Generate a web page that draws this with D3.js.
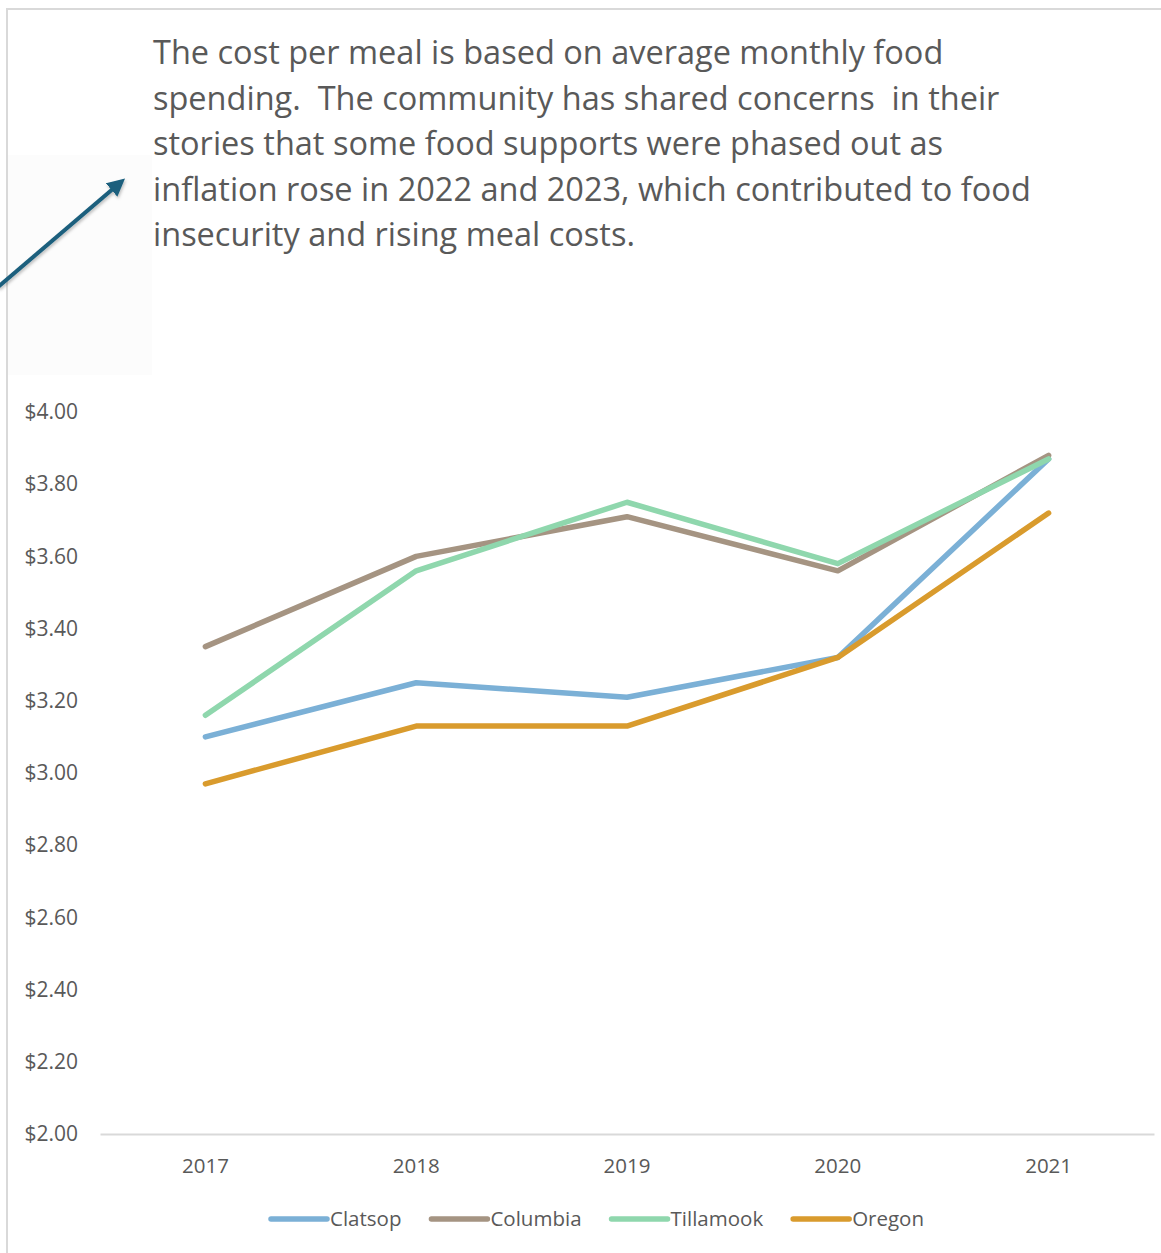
<!DOCTYPE html>
<html lang="en">
<head>
    <meta charset="UTF-8">
    <title>Cost per meal</title>
    <script src="https://d3js.org/d3.v7.min.js"></script>
    <style>
        body, html {
            margin: 0;
            background-color: #ffffff;
        }
        svg text {
            font-family: 'Open Sans', sans-serif;
            fill: #595959;
        }
    </style>
</head>
<body>
<svg id="chart"></svg>

<script>
    // data
    const years = ["2017", "2018", "2019", "2020", "2021"];
    const clatsop = [3.10, 3.25, 3.21, 3.32, 3.87];
    const columbia = [3.35, 3.60, 3.71, 3.56, 3.88];
    const tillamook = [3.16, 3.56, 3.75, 3.58, 3.87];
    const oregon = [2.97, 3.13, 3.13, 3.32, 3.72];
    const seriesNames = ["Clatsop", "Columbia", "Tillamook", "Oregon"];
    const seriesColors = ["#7bb0d6", "#a59482", "#8fd7ad", "#d99b2d"];
    const yTicks = [2.0, 2.2, 2.4, 2.6, 2.8, 3.0, 3.2, 3.4, 3.6, 3.8, 4.0];
    const noteLines = [
        "The cost per meal is based on average monthly food",
        "spending.  The community has shared concerns  in their",
        "stories that some food supports were phased out as",
        "inflation rose in 2022 and 2023, which contributed to food",
        "insecurity and rising meal costs."
    ];

    const series = seriesNames.map((name, i) => ({
        name,
        color: seriesColors[i],
        values: [clatsop, columbia, tillamook, oregon][i]
    }));

    const W = 1161, H = 1253;
    const svg = d3.select("#chart").attr("width", W).attr("height", H);

    // frame
    svg.append("path")
        .attr("d", `M7,${H} L7,9 L${W},9`)
        .attr("fill", "none")
        .attr("stroke", "#d9d9d9")
        .attr("stroke-width", 2);

    // faint box behind arrow
    svg.append("rect")
        .attr("x", 8).attr("y", 155).attr("width", 144).attr("height", 220)
        .attr("fill", "#fcfcfc");

    // arrow
    const defs = svg.append("defs");
    defs.append("marker")
        .attr("id", "head")
        .attr("viewBox", "0 0 10 10")
        .attr("refX", 7).attr("refY", 5)
        .attr("markerWidth", 4.4).attr("markerHeight", 4.4)
        .attr("orient", "auto")
        .append("path")
        .attr("d", "M0,0 L10,5 L0,10 z")
        .attr("fill", "#1a5f7d");
    defs.append("filter").attr("id", "shadow")
        .append("feDropShadow")
        .attr("dx", 1).attr("dy", 2).attr("stdDeviation", 1.5)
        .attr("flood-color", "#000").attr("flood-opacity", 0.25);

    svg.append("line")
        .attr("x1", -2).attr("y1", 287)
        .attr("x2", 121).attr("y2", 182)
        .attr("stroke", "#1a5f7d")
        .attr("stroke-width", 4)
        .attr("marker-end", "url(#head)")
        .attr("filter", "url(#shadow)");

    // annotation
    const note = svg.append("text")
        .attr("x", 153)
        .attr("y", 64)
        .style("font-size", "32.5px");
    note.selectAll("tspan")
        .data(noteLines)
        .join("tspan")
        .attr("x", 153)
        .attr("dy", (d, i) => i === 0 ? 0 : 45.5)
        .attr("xml:space", "preserve")
        .style("white-space", "pre")
        .text(d => d);

    // chart area
    const margin = { left: 100, right: 7, top: 412, bottom: 119 };
    const x = d3.scaleBand().domain(years).range([margin.left, W - margin.right]);
    const y = d3.scaleLinear().domain([2, 4]).range([H - margin.bottom, margin.top]);

    const yAxis = svg.append("g")
        .attr("transform", `translate(${margin.left},0)`)
        .call(d3.axisLeft(y).tickValues(yTicks).tickSize(0).tickPadding(22)
            .tickFormat(d => "$" + d3.format(".2f")(d)));
    yAxis.select(".domain").remove();
    yAxis.selectAll("text")
        .style("font-size", "21px")
        .attr("fill", "#595959");

    const xAxis = svg.append("g")
        .attr("transform", `translate(0,${y(2)})`)
        .call(d3.axisBottom(x).tickSize(0).tickPadding(24));
    xAxis.select(".domain").attr("stroke", "#d9d9d9").attr("stroke-width", 2);
    xAxis.selectAll("text")
        .style("font-size", "20.5px")
        .attr("fill", "#595959");

    const line = d3.line()
        .x((d, i) => x(years[i]) + x.bandwidth() / 2)
        .y(d => y(d));

    svg.append("g")
        .selectAll("path")
        .data(series)
        .join("path")
        .attr("d", d => line(d.values))
        .attr("fill", "none")
        .attr("stroke", d => d.color)
        .attr("stroke-width", 5.5)
        .attr("stroke-linecap", "round")
        .attr("stroke-linejoin", "round");

    // legend
    const legend = svg.append("g").attr("transform", "translate(0,1219)");
    const items = legend.selectAll("g")
        .data(series)
        .join("g");
    items.append("line")
        .attr("x1", 0).attr("x2", 56)
        .attr("stroke", d => d.color)
        .attr("stroke-width", 5.5)
        .attr("stroke-linecap", "round");
    items.append("text")
        .attr("x", 59)
        .attr("dy", "0.35em")
        .style("font-size", "20.5px")
        .text(d => d.name);

    let lx = 271;
    items.each(function () {
        const g = d3.select(this);
        g.attr("transform", `translate(${lx},0)`);
        lx += 59 + g.select("text").node().getComputedTextLength() + 30;
    });
</script>
</body>
</html>
